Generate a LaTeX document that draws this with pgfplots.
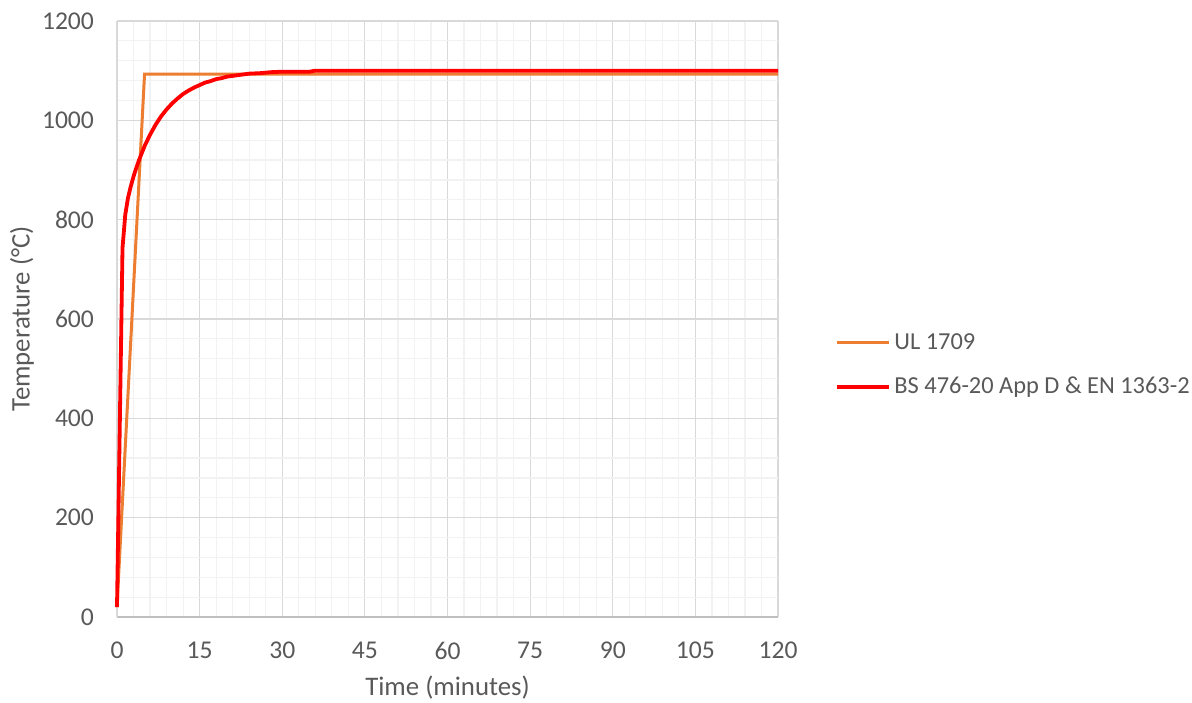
\documentclass[border=0pt]{standalone}
\usepackage{fontspec}
\setmainfont{Carlito}
\usepackage{pgfplots}
\pgfplotsset{compat=1.18}
\definecolor{txt}{HTML}{595959}
\definecolor{gmaj}{HTML}{D9D9D9}
\definecolor{gmin}{HTML}{F2F2F2}
\definecolor{axisc}{HTML}{BFBFBF}
\definecolor{ulc}{HTML}{ED7D31}
\definecolor{bsc}{HTML}{FF0000}
\begin{document}
\begin{tikzpicture}
\path[use as bounding box] (0,0) rectangle (596pt,351pt);
\begin{axis}[
  at={(58.5pt,42.5pt)}, anchor=south west,
  scale only axis, width=330.5pt, height=298pt,
  xmin=0, xmax=120, ymin=0, ymax=1200,
  xtick={0,15,...,120}, ytick={0,200,...,1200},
  minor x tick num=4, minor y tick num=4,
  grid=both,
  major grid style={draw=gmaj, line width=0.6pt},
  minor grid style={draw=gmin, line width=0.6pt},
  axis x line*=bottom, axis y line*=left,
  x axis line style={draw=axisc, line width=0.7pt, -},
  y axis line style={draw=gmaj, line width=0.6pt, -},
  major tick length=0pt, minor tick length=0pt,
  tick style={draw=none},
  /pgf/number format/assume math mode=true,
  /pgf/number format/1000 sep={},
  tick label style={font=\fontsize{12.8}{15}\selectfont, text=txt},
  xticklabel style={yshift=-9pt},
  yticklabel style={xshift=-8pt},
  xlabel={Time (minutes)}, ylabel={Temperature (°C)},
  label style={font=\fontsize{13.4}{16}\selectfont, text=txt},
  xlabel style={at={(0.5,0)}, yshift=-26pt, anchor=north},
  ylabel style={at={(0,0.5)}, yshift=38pt, anchor=south},
  legend style={at={(1.085,0.4228)}, anchor=west, draw=none, fill=none,
    font=\fontsize{12.2}{15}\selectfont, text=txt, inner sep=0pt,
    row sep=8.5pt, cells={anchor=west}},
  legend image code/.code={\draw[#1] (0pt,0pt) -- (26pt,0pt);},
  clip=false,
]
\addplot[ulc, line width=1.5pt] coordinates {(0,20) (5,1093) (120,1093)};
\addlegendentry{UL 1709}
\addplot[bsc, line width=1.9pt, line join=round] coordinates {
(0,20) (1,743) (1.5,810) (2,844) (2.5,867) (3,887) (3.5,904) (4,920) (5,948) (6,971) (7,991) (8,1008)
(9,1022) (10,1034) (11,1044) (12,1053) (13,1060) (14,1066) (15,1071)
(16,1076) (17,1079) (18,1083) (19,1085) (20,1088) (22,1091) (24,1094)
(26,1095) (28,1097) (30,1098) (35,1098) (36,1100) (40,1100) (60,1100) (90,1100) (120,1100)};
\addlegendentry{BS 476-20 App D \& EN 1363-2}
\end{axis}
\end{tikzpicture}
\end{document}
